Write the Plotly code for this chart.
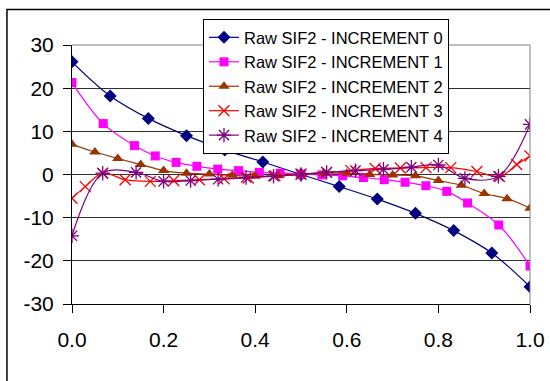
import plotly.graph_objects as go

# ---- data ----
x_inc0 = [k / 12 for k in range(13)]
y_inc0 = [26.1, 18.2, 13.0, 9.0, 5.7, 2.9, 0.0, -2.8, -5.7, -9.0, -13.0, -18.2, -26.0]

x_inc1 = [v / 22 for v in [0, 1.5, 3, 4, 5, 6, 7, 8, 9, 10, 11, 12, 13, 14, 15, 16, 17, 18, 19, 20.5, 22]]
y_inc1 = [21.3, 11.8, 6.7, 4.3, 2.8, 1.9, 1.25, 0.9, 0.5, 0.3, 0.1, -0.1, -0.3, -0.7, -1.2, -1.8, -2.6, -3.9, -6.6, -11.7, -21.2]

x_inc2 = [k / 20 for k in range(21)]
y_inc2 = [7.0, 5.2, 3.7, 2.3, 0.9, 0.3, 0.1, -0.2, -0.4, -0.3, 0.0, 0.3, 0.3, 0.0, -0.1, -0.3, -1.4, -2.5, -4.4, -5.6, -7.8]

x_inc3 = [0, 0.029, 0.067, 0.116, 0.171, 0.222, 0.278, 0.332, 0.385, 0.443, 0.5,
          0.556, 0.609, 0.662, 0.717, 0.773, 0.827, 0.884, 0.934, 0.971, 1.0]
y_inc3 = [-5.5, -2.8, 0.3, -1.2, -1.6, -1.4, -1.2, -1.0, -0.8, -0.3, 0.1,
          0.5, 0.9, 1.4, 1.5, 1.6, 1.6, 0.7, -0.5, 2.3, 4.3]

x_inc4 = [0, 0.067, 0.14, 0.2, 0.259, 0.319, 0.38, 0.44, 0.5, 0.556, 0.619, 0.68, 0.741, 0.8, 0.858, 0.931, 1.0]
y_inc4 = [-14.2, 0.3, 0.5, -1.6, -1.4, -1.1, -0.7, -0.4, 0.0, 0.5, 0.9, 1.2, 1.7, 2.2, -0.9, -0.4, 11.6]

series_names = ["Raw SIF2 - INCREMENT 0", "Raw SIF2 - INCREMENT 1", "Raw SIF2 - INCREMENT 2",
                "Raw SIF2 - INCREMENT 3", "Raw SIF2 - INCREMENT 4"]

y_tick_vals = [30, 20, 10, 0, -10, -20, -30]
y_tick_labels = ["30", "20", "10", "0", "-10", "-20", "-30"]
x_tick_vals = [0, 0.2, 0.4, 0.6, 0.8, 1.0]
x_tick_labels = ["0.0", "0.2", "0.4", "0.6", "0.8", "1.0"]

# ---- styles ----
styles = [
    dict(color="#000080", symbol="diamond", size=10),
    dict(color="#FF00FF", symbol="square", size=9),
    dict(color="#993300", symbol="triangle-up", size=10),
    dict(color="#FF0000", symbol="x-thin-open", size=11),
    dict(color="#800080", symbol="asterisk-open", size=12),
]

FONT = "Arial, Liberation Sans, sans-serif"

fig = go.Figure()
data = [(x_inc0, y_inc0), (x_inc1, y_inc1), (x_inc2, y_inc2), (x_inc3, y_inc3), (x_inc4, y_inc4)]
for (xs, ys), name, st in zip(data, series_names, styles):
    marker = dict(symbol=st["symbol"], size=st["size"], color=st["color"])
    if st["symbol"].endswith("open"):
        marker["line"] = dict(color=st["color"], width=1.3)
    fig.add_trace(go.Scatter(
        x=xs, y=ys, name=name, mode="lines+markers",
        line=dict(color=st["color"], width=1.2, shape="spline", smoothing=1),
        marker=marker,
    ))

fig.update_layout(
    width=550, height=381,
    margin=dict(l=72, r=20, t=45, b=77, autoexpand=False),
    paper_bgcolor="white", plot_bgcolor="white",
    font=dict(family=FONT, color="black"),
    showlegend=True,
    legend=dict(
        x=0.286, y=1.10, xanchor="left", yanchor="top",
        bgcolor="white", bordercolor="black", borderwidth=1,
        font=dict(family=FONT, size=16.5, color="black"),
        tracegroupgap=0,
    ),
    xaxis=dict(
        range=[0, 1], tickvals=x_tick_vals, ticktext=x_tick_labels,
        showgrid=False, zeroline=False, automargin=False,
        showline=True, linecolor="black", linewidth=1,
        ticks="outside", ticklen=8, tickcolor="black", ticklabelstandoff=9,
        tickfont=dict(family=FONT, size=21, color="black"),
    ),
    yaxis=dict(
        range=[-30, 30], tickvals=y_tick_vals, ticktext=y_tick_labels,
        showgrid=True, gridcolor="#303030", gridwidth=1, zeroline=False, automargin=False,
        showline=True, linecolor="black", linewidth=1,
        ticks="outside", ticklen=8, tickcolor="black", ticklabelstandoff=5,
        tickfont=dict(family=FONT, size=21, color="black"),
    ),
    shapes=[
        # plot-area border (top and right) in gray
        dict(type="line", xref="paper", yref="paper", x0=0, x1=1, y0=1, y1=1,
             line=dict(color="#808080", width=1)),
        dict(type="line", xref="paper", yref="paper", x0=1, x1=1, y0=0, y1=1,
             line=dict(color="#808080", width=1)),
        # chart-area border (extends past the visible frame)
        dict(type="rect", xref="paper", yref="paper", x0=-0.142, x1=1.08, y0=-0.34, y1=1.137,
             line=dict(color="black", width=1.5), fillcolor="rgba(0,0,0,0)", layer="above"),
    ],
)

fig.write_html("out.html")
